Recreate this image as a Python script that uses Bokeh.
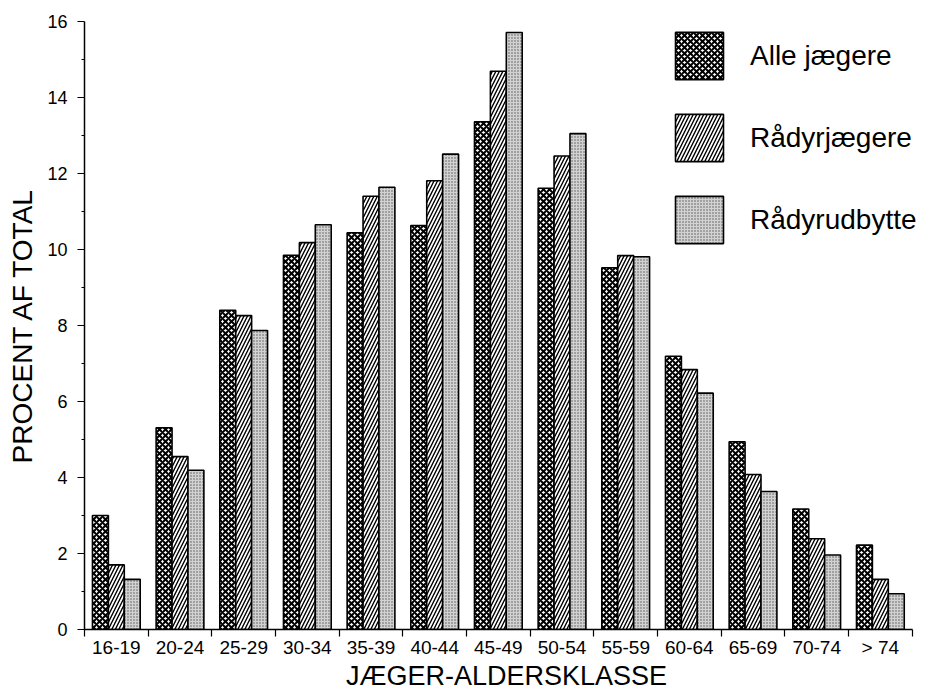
from bokeh.plotting import figure
from bokeh.models import Range1d, FixedTicker, Legend, LegendItem, ColumnDataSource
from bokeh.transform import dodge
from bokeh.embed import file_html
from bokeh.resources import INLINE

categories = ["16-19", "20-24", "25-29", "30-34", "35-39", "40-44", "45-49",
              "50-54", "55-59", "60-64", "65-69", "70-74", "> 74"]
alle_jaegere = [3.00, 5.31, 8.40, 9.85, 10.44, 10.63, 13.36, 11.61, 9.52, 7.19, 4.94, 3.17, 2.22]
raadyrjaegere = [1.70, 4.55, 8.26, 10.18, 11.40, 11.81, 14.69, 12.46, 9.84, 6.84, 4.08, 2.39, 1.32]
raadyrudbytte = [1.32, 4.19, 7.87, 10.65, 11.64, 12.51, 15.71, 13.05, 9.81, 6.22, 3.63, 1.96, 0.94]
series_labels = ["Alle jægere", "Rådyrjægere", "Rådyrudbytte"]
y_major_ticks = [0, 2, 4, 6, 8, 10, 12, 14, 16]
y_minor_ticks = [1, 3, 5, 7, 9, 11, 13, 15]

n = len(categories)
centers = [i + 0.5 for i in range(n)]
boundaries = list(range(n + 1))

source = ColumnDataSource(dict(x=centers, alle=alle_jaegere, raadyr=raadyrjaegere, udbytte=raadyrudbytte))

FONT = "Liberation Sans"

p = figure(width=936, height=693, output_backend="svg", toolbar_location=None,
           x_range=Range1d(0, n + 0.256), y_range=Range1d(0, 16),
           min_border_left=84, min_border_right=8, min_border_top=21, min_border_bottom=61)
p.outline_line_color = None
p.xgrid.visible = False
p.ygrid.visible = False
p.background_fill_color = "white"
p.border_fill_color = "white"

bw = 0.25
r1 = p.vbar(x=dodge("x", -bw, range=p.x_range), top="alle", width=bw, source=source,
            fill_color="white", line_color="black", line_width=1.6,
            hatch_pattern="diagonal_cross", hatch_color="black", hatch_weight=2.0, hatch_scale=6)
r2 = p.vbar(x=dodge("x", 0, range=p.x_range), top="raadyr", width=bw, source=source,
            fill_color="white", line_color="black", line_width=1.6,
            hatch_pattern="right_diagonal_line", hatch_color="black", hatch_weight=1.4, hatch_scale=7)
r3 = p.vbar(x=dodge("x", bw, range=p.x_range), top="udbytte", width=bw, source=source,
            fill_color="#d2d2d2", line_color="black", line_width=1.6,
            hatch_pattern="dot", hatch_color="#555555", hatch_weight=1, hatch_scale=3)

# x axis
xa = p.xaxis[0]
xa.bounds = (0, n)
xa.ticker = FixedTicker(ticks=centers, minor_ticks=boundaries)
xa.major_label_overrides = {c: lab for c, lab in zip(centers, categories)}
xa.major_tick_line_color = None
xa.major_tick_out = 0
xa.major_tick_in = 0
xa.minor_tick_line_color = "black"
xa.minor_tick_line_width = 1.2
xa.minor_tick_out = 7
xa.minor_tick_in = 0
xa.axis_line_width = 1.5
xa.axis_label = "JÆGER-ALDERSKLASSE"
xa.axis_label_text_font = FONT
xa.axis_label_text_font_size = "27px"
xa.axis_label_text_font_style = "normal"
xa.axis_label_text_color = "black"
xa.axis_label_standoff = 0
xa.major_label_text_font = FONT
xa.major_label_text_font_size = "19px"
xa.major_label_text_color = "black"
xa.major_label_standoff = 0

# y axis
ya = p.yaxis[0]
ya.ticker = FixedTicker(ticks=y_major_ticks, minor_ticks=y_minor_ticks)
ya.major_tick_out = 7
ya.major_tick_in = 0
ya.major_tick_line_width = 1.2
ya.minor_tick_out = 3
ya.minor_tick_in = 0
ya.axis_line_width = 1.5
ya.axis_label = "PROCENT AF TOTAL"
ya.axis_label_text_font = FONT
ya.axis_label_text_font_size = "28px"
ya.axis_label_text_font_style = "normal"
ya.axis_label_text_color = "black"
ya.axis_label_standoff = 6
ya.major_label_text_font = FONT
ya.major_label_text_font_size = "18px"
ya.major_label_text_color = "black"
ya.major_label_standoff = 10

legend = Legend(items=[LegendItem(label=series_labels[0], renderers=[r1]),
                       LegendItem(label=series_labels[1], renderers=[r2]),
                       LegendItem(label=series_labels[2], renderers=[r3])],
                location=(585, 380), padding=0, margin=0, spacing=23,
                glyph_width=60, glyph_height=59, label_standoff=21,
                label_text_font=FONT, label_text_font_size="28px", label_text_color="black",
                border_line_color=None, background_fill_alpha=0)
p.add_layout(legend)

open("out.html", "w").write(file_html(p, INLINE))
